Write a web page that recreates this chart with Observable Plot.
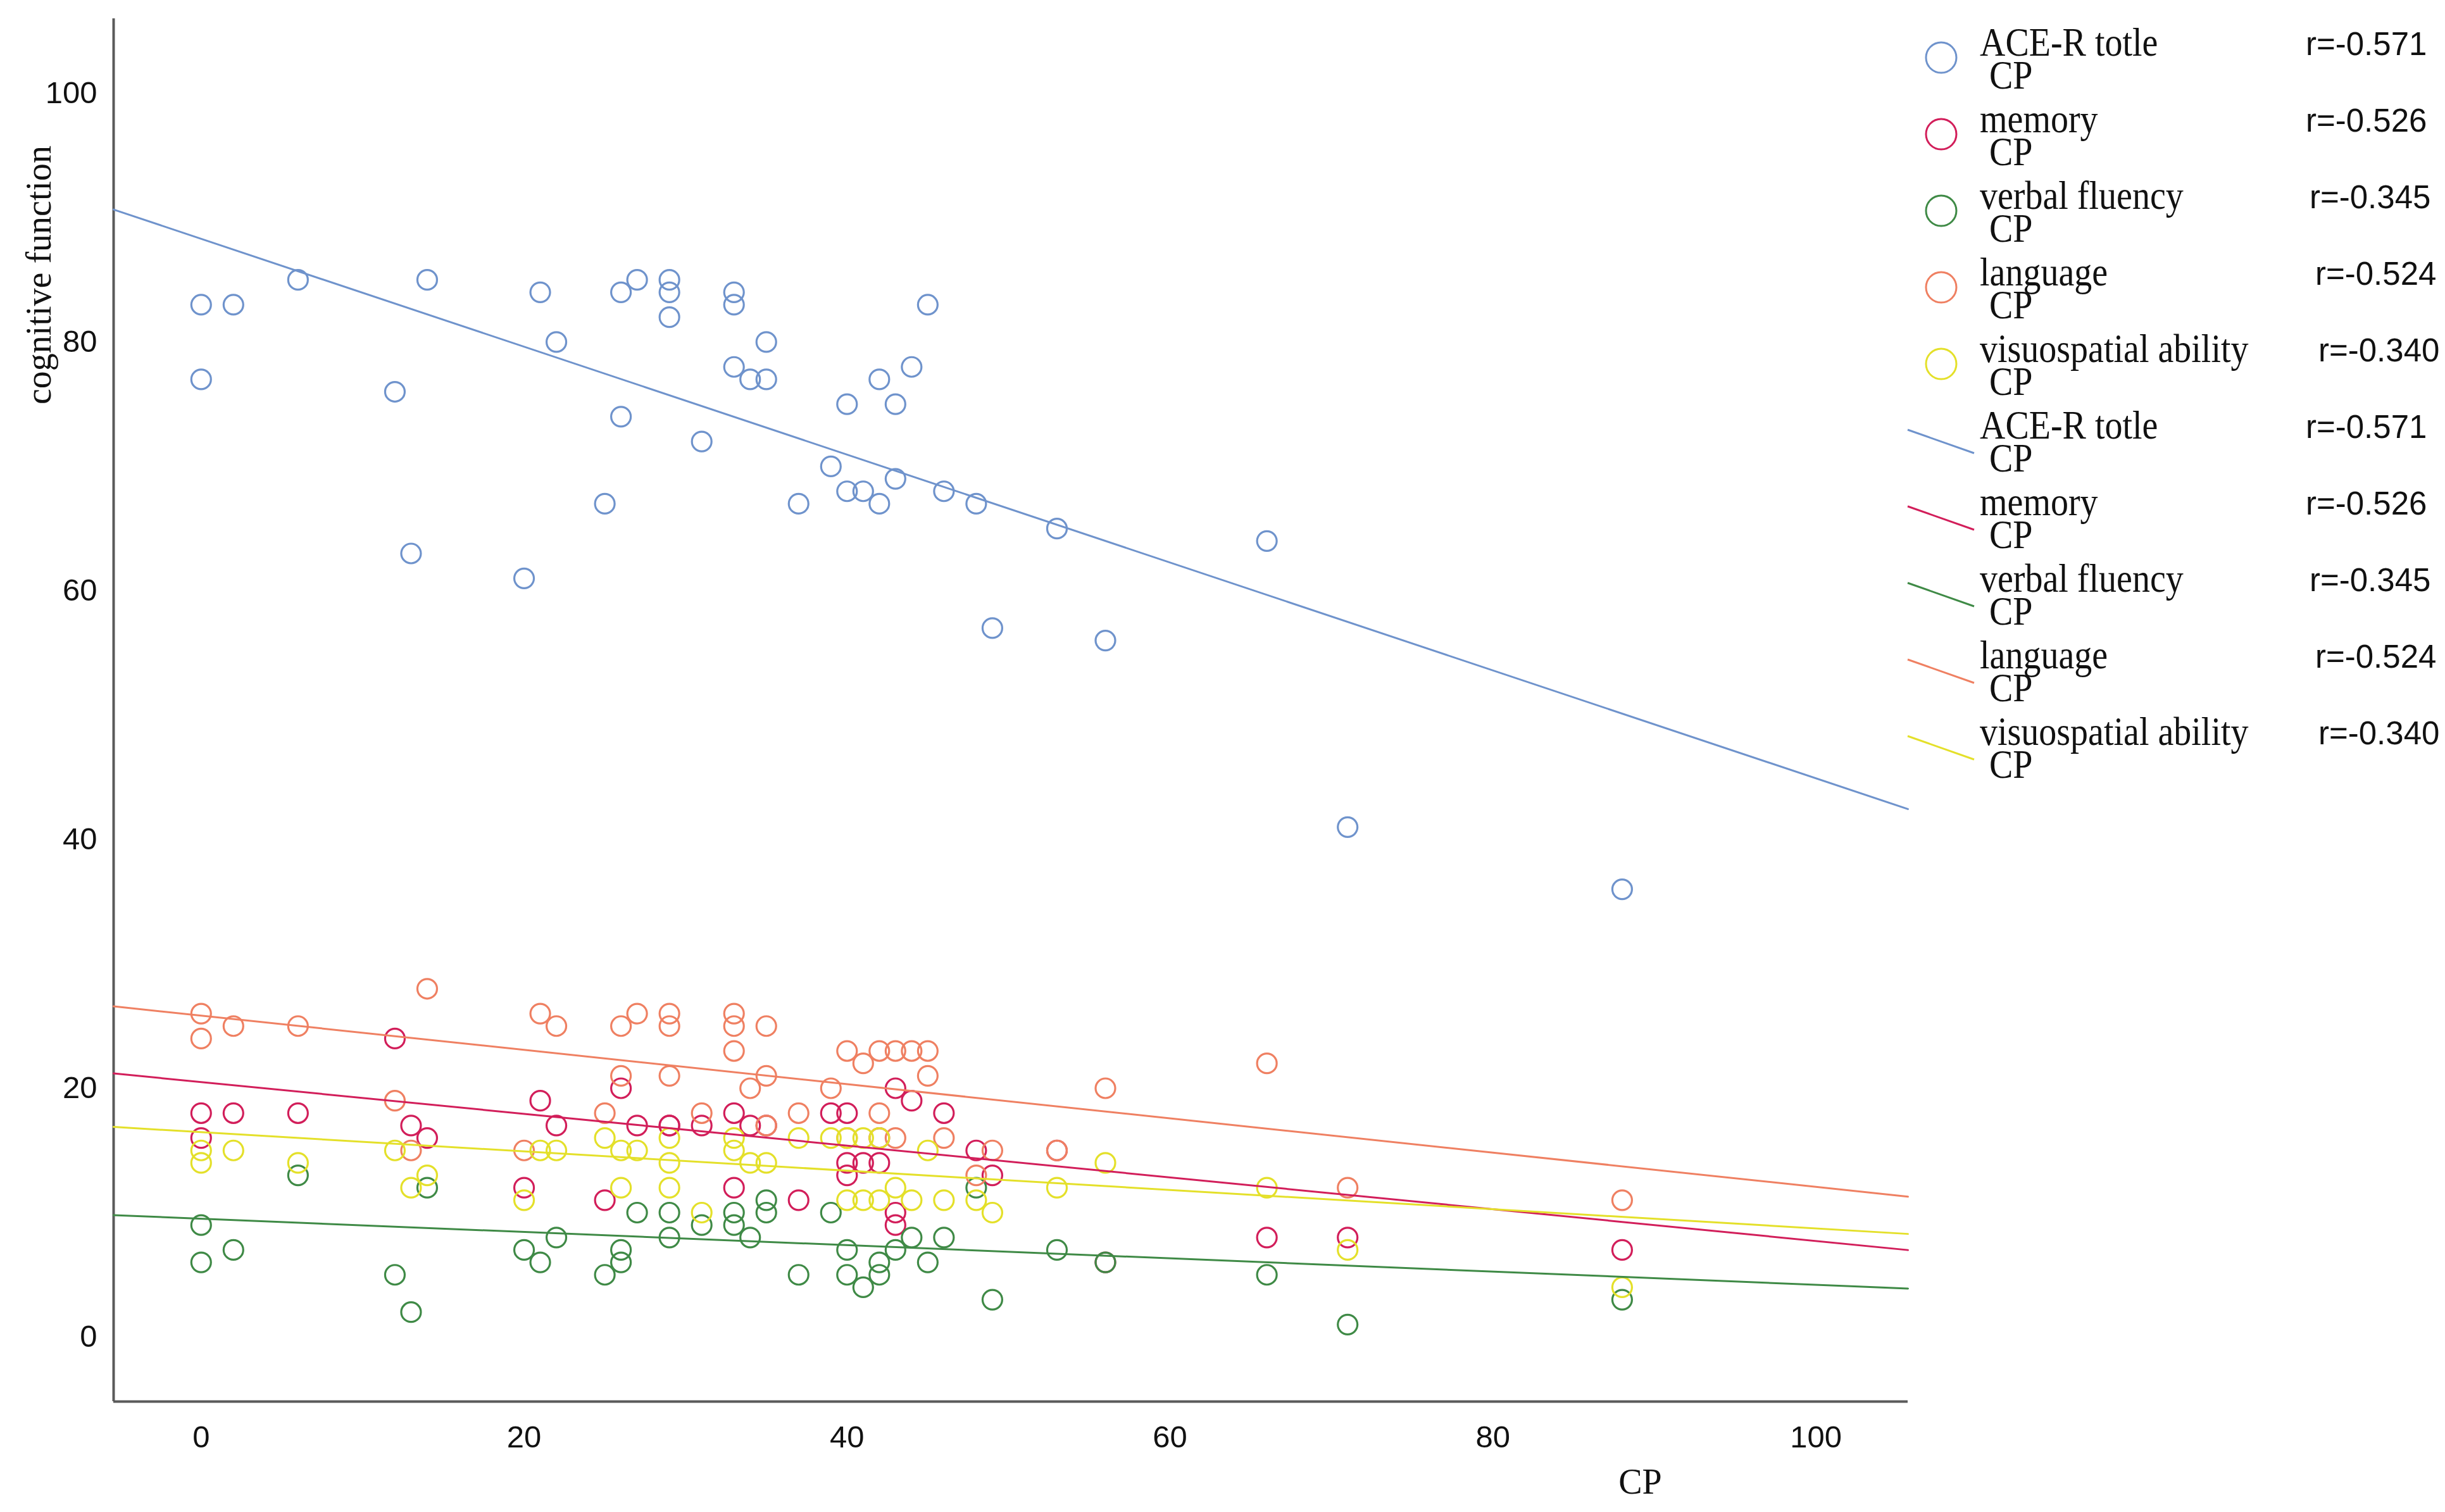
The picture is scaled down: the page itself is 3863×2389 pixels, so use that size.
<!DOCTYPE html>
<html>
<head>
<meta charset="utf-8">
<script src="https://cdn.jsdelivr.net/npm/d3@7"></script>
<script src="https://cdn.jsdelivr.net/npm/@observablehq/plot@0.6"></script>
<style>
  html, body { margin: 0; padding: 0; background: #fff; overflow: hidden; }
  #wrap { position: relative; width: 3863px; height: 2389px; }
  #wrap > svg { position: absolute; left: 0; top: 0; }
</style>
</head>
<body>
<div id="wrap"></div>
<script>
// ---------- data ----------
const seriesNames = ["ACE-R totle", "memory", "verbal fluency", "language", "visuospatial ability"];
const seriesColors = ["#6f93cc", "#d21e5a", "#3f8a46", "#ef8062", "#e4e02a"];
const rValues = ["r=-0.571", "r=-0.526", "r=-0.345", "r=-0.524", "r=-0.340"];

const aceCP  = [0,0,2,6,12,13,14,20,21,22,25,26,26,27,29,29,29,31,33,33,33,34,35,35,37,39,40,40,41,42,42,43,43,44,45,46,48,49,53,56,66,71,88];
const aceVal = [83,77,83,85,76,63,85,61,84,80,67,84,74,85,85,84,82,72,84,83,78,77,77,80,67,70,75,68,68,77,67,75,69,78,83,68,67,57,65,56,64,41,36];

const memCP  = [0,0,2,6,12,13,14,20,21,22,25,26,27,29,29,31,33,33,34,35,37,39,40,40,40,41,42,42,43,43,43,44,46,48,49,53,56,66,71,88];
const memVal = [18,16,18,18,24,17,16,12,19,17,11,20,17,17,17,17,18,12,17,17,11,18,18,14,13,14,16,14,20,10,9,19,18,15,13,15,6,8,8,7];

const verCP  = [0,0,2,6,12,13,14,20,21,22,25,26,26,27,29,29,31,33,33,34,35,35,37,39,40,40,41,42,42,43,44,45,46,48,49,53,56,66,71,88];
const verVal = [9,6,7,13,5,2,12,7,6,8,5,7,6,10,10,8,9,10,9,8,11,10,5,10,7,5,4,6,5,7,8,6,8,12,3,7,6,5,1,3];

const lanCP  = [0,0,2,6,12,13,14,20,21,22,25,26,26,27,29,29,29,31,33,33,33,34,35,35,35,37,39,40,40,41,42,42,43,43,44,45,45,46,48,49,53,56,66,71,88];
const lanVal = [26,24,25,25,19,15,28,15,26,25,18,25,21,26,26,25,21,18,26,25,23,20,25,21,17,18,20,23,16,22,23,18,23,16,23,23,21,16,13,15,15,20,22,12,11];

const visCP  = [0,0,2,6,12,13,14,20,21,22,25,26,26,27,29,29,29,31,33,33,34,35,37,39,40,40,41,41,42,42,43,44,45,46,48,49,53,56,66,71,88];
const visVal = [15,14,15,14,15,12,13,11,15,15,16,15,12,15,16,14,12,10,16,15,14,14,16,16,16,11,16,11,16,11,12,11,15,11,11,10,12,14,12,7,4];

// fit lines: intercept at CP=0, slope per CP unit
const fitIntercept = [88.3, 20.5, 9.51, 25.84, 16.47];
const fitSlope     = [-0.4338, -0.1278, -0.0531, -0.1377, -0.0774];

const xDomain = [-5.42, 105.7];
const yDomain = [-5.19, 106.0];
const xTicks = [0, 20, 40, 60, 80, 100];
const yTicks = [0, 20, 40, 60, 80, 100];

// ---------- build tables ----------
const cps = [aceCP, memCP, verCP, lanCP, visCP];
const vals = [aceVal, memVal, verVal, lanVal, visVal];
const points = [];
cps.forEach((c, s) => c.forEach((x, i) => points.push({s, cp: x, v: vals[s][i]})));
const fits = [];
fitIntercept.forEach((b, s) => {
  xDomain.forEach(x => fits.push({s, cp: x, v: b + fitSlope[s] * x}));
});

const serif = "'Liberation Serif', 'Times New Roman', serif";
const sans = "'Liberation Sans', Arial, sans-serif";

const chart = Plot.plot({
  width: 3863,
  height: 2389,
  marginLeft: 179,
  marginRight: 849,
  marginTop: 29,
  marginBottom: 175,
  style: {fontFamily: sans, fontSize: "48px", background: "#fff", color: "#111"},
  x: {domain: xDomain},
  y: {domain: yDomain},
  marks: [
    Plot.axisX({ticks: xTicks, tickSize: 0, tickPadding: 38, fontSize: 49, label: null}),
    Plot.axisY({ticks: yTicks, tickSize: 0, tickPadding: 26, fontSize: 49, label: null}),
    Plot.ruleX([xDomain[0]], {stroke: "#5a5a5a", strokeWidth: 4}),
    Plot.ruleY([yDomain[0]], {stroke: "#5a5a5a", strokeWidth: 4}),
    ...seriesNames.map((n, s) => Plot.dot(points.filter(d => d.s === s), {
      x: "cp", y: "v", r: 15.5, stroke: seriesColors[s], strokeWidth: 3.2, fill: "none"
    })),
    ...seriesNames.map((n, s) => Plot.line(fits.filter(d => d.s === s), {
      x: "cp", y: "v", stroke: seriesColors[s], strokeWidth: 3
    })),
    Plot.text(["cognitive function"], {frameAnchor: "top-left", dx: -117, dy: 405, rotate: -90,
      textAnchor: "middle", lineAnchor: "middle",
      fontSize: 56, fontFamily: serif, fill: "#111"}),
    Plot.text(["CP"], {frameAnchor: "bottom-left", dx: 2412, dy: 128,
      textAnchor: "middle", lineAnchor: "middle",
      fontSize: 56, fontFamily: serif, fill: "#111"})
  ]
});
document.getElementById("wrap").appendChild(chart);

// ---------- legend ----------
const leg = d3.select("#wrap").append("svg")
  .attr("width", 3863).attr("height", 2389)
  .style("pointer-events", "none");
const rowStep = 121, row0 = 91;
const rX = [3643, 3643, 3649, 3658, 3663];
for (let k = 0; k < 10; k++) {
  const s = k % 5;
  const cy = row0 + rowStep * k;
  if (k < 5) {
    leg.append("circle").attr("cx", 3067).attr("cy", cy).attr("r", 24)
      .attr("fill", "none").attr("stroke", seriesColors[s]).attr("stroke-width", 3);
  } else {
    leg.append("line").attr("x1", 3014).attr("y1", cy - 17).attr("x2", 3119).attr("y2", cy + 20)
      .attr("stroke", seriesColors[s]).attr("stroke-width", 3);
  }
  leg.append("text").attr("transform", `translate(3128,${cy - 3}) scale(1,1.12)`)
    .attr("font-family", serif).attr("font-size", 56).attr("fill", "#111").text(seriesNames[s]);
  leg.append("text").attr("transform", `translate(3143,${cy + 49}) scale(1,1.12)`)
    .attr("font-family", serif).attr("font-size", 56).attr("fill", "#111").text("CP");
  leg.append("text").attr("x", rX[s]).attr("y", cy - 4)
    .attr("font-family", sans).attr("font-size", 51).attr("fill", "#111").text(rValues[s]);
}
</script>
</body>
</html>
